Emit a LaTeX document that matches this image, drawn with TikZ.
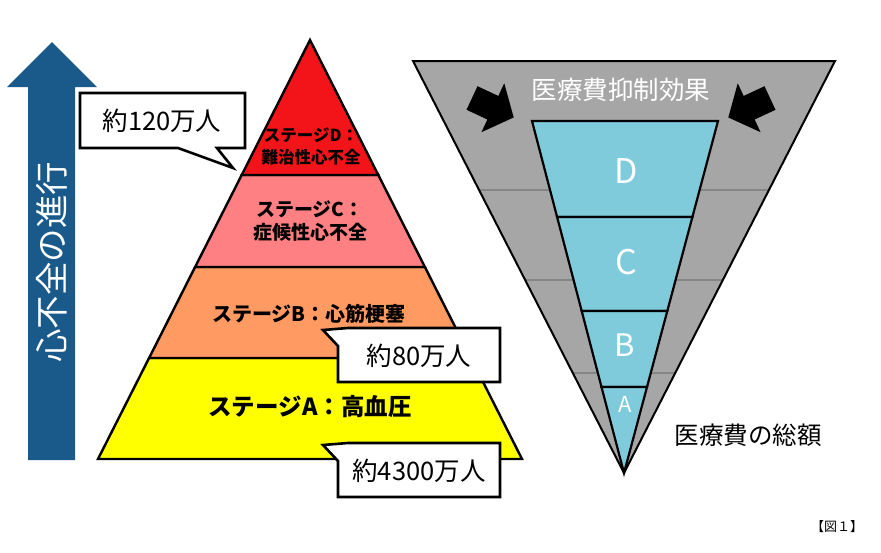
\documentclass[tikz,border=0pt]{standalone}
\usepackage{fontspec}
\setmainfont{Noto Sans CJK JP}
\definecolor{arrblue}{HTML}{1A5A8B}
\definecolor{stD}{HTML}{F21418}
\definecolor{stC}{HTML}{FF8082}
\definecolor{stB}{HTML}{FF9A62}
\definecolor{stA}{HTML}{FFFF00}
\definecolor{grayband}{HTML}{A6A6A6}
\definecolor{grayline}{HTML}{858585}
\definecolor{cost}{HTML}{7FCADB}
\begin{document}
\begin{tikzpicture}[x=1pt,y=-1pt,
  layer/.style={draw=black,line width=2.4pt,line join=miter},
  stagetext/.style={font=\bfseries,text=black,align=center,inner sep=0pt},
  callout/.style={draw=black,fill=white,line width=2.6pt,line join=miter},
  calltext/.style={font=\fontsize{25.5}{27}\selectfont,inner sep=0pt},
  costletter/.style={text=white,font=\fontsize{34}{36}\selectfont,inner sep=0pt},
  blackarrow/.style={fill=black}]
\useasboundingbox (0,0) rectangle (881,552);

% vertical progress arrow
\fill[arrblue] (28,460) -- (28,87) -- (7,87) -- (52,42) -- (97,87) -- (75,87) -- (75,460) -- cycle;
\node[text=white,rotate=90,font=\fontsize{33.5}{35}\selectfont,inner sep=0pt] (prog) at (52,262) {心不全の進行};

% pyramid
\path[layer,fill=stA] (149.1,358) -- (470.9,358) -- (522,459) -- (98,459) -- cycle;
\path[layer,fill=stB] (195.1,267) -- (424.9,267) -- (470.9,358) -- (149.1,358) -- cycle;
\path[layer,fill=stC] (241.7,175) -- (378.3,175) -- (424.9,267) -- (195.1,267) -- cycle;
\path[layer,fill=stD] (310,40) -- (378.3,175) -- (241.7,175) -- cycle;

\node[stagetext,font=\bfseries\fontsize{16.5}{22}\selectfont] (sD) at (311,146) {ステージD：\\難治性心不全};
\node[stagetext,font=\bfseries\fontsize{19}{23}\selectfont] (sC) at (310,221) {ステージC：\\症候性心不全};
\node[stagetext,font=\bfseries\fontsize{20}{22}\selectfont] (sB) at (309,314) {ステージB：心筋梗塞};
\node[stagetext,font=\bfseries\fontsize{23.5}{25}\selectfont] (sA) at (310,407) {ステージA：高血圧};

% callouts
\coordinate (t1) at (233,168);
\draw[callout] (80,93) -- (245,93) -- (245,148) -- (217,148) -- (t1) -- (178,148) -- (80,148) -- cycle;
\node[calltext] (c1) at (162,121) {約120万人};

\coordinate (t2) at (323,330);
\draw[callout] (348,328) -- (500,328) -- (500,382) -- (338,382) -- (338,346) -- (t2) -- cycle;
\node[calltext] (c2) at (419,356) {約80万人};

\coordinate (t3) at (323,445);
\draw[callout] (348,443) -- (500,443) -- (500,497) -- (338,497) -- (338,461) -- (t3) -- cycle;
\node[calltext] (c3) at (419,471) {約4300万人};

% inverted triangle: medical costs
\fill[grayband] (413,61) -- (835,61) -- (624,473) -- cycle;
\draw[grayline,line width=2pt] (479.1,190) -- (768.9,190);
\draw[grayline,line width=2pt] (525.2,280) -- (722.8,280);
\draw[grayline,line width=2pt] (572.8,373) -- (675.2,373);
\draw[black,line width=2pt,line join=miter] (413,61) -- (835,61) -- (624,473) -- cycle;

\path[layer,line width=2.2pt,fill=cost] (532,121) -- (718,121) -- (692.4,217) -- (557.1,217) -- cycle;
\path[layer,line width=2.2pt,fill=cost] (557.1,217) -- (692.4,217) -- (667.3,311) -- (581.7,311) -- cycle;
\path[layer,line width=2.2pt,fill=cost] (581.7,311) -- (667.3,311) -- (647.0,387) -- (601.5,387) -- cycle;
\path[layer,line width=2.2pt,fill=cost] (601.5,387) -- (647.0,387) -- (624,473) -- cycle;

\node[costletter] (lD) at (626,171) {D};
\node[costletter] (lC) at (626,262) {C};
\node[costletter,font=\fontsize{31}{33}\selectfont] (lB) at (625,345) {B};
\node[costletter,font=\fontsize{22}{24}\selectfont] (lA) at (625,404) {A};

\node[text=white,font=\fontsize{25.5}{27}\selectfont,inner sep=0pt] (eff) at (621,90) {医療費抑制効果};
\node[text=black,font=\fontsize{24.5}{26}\selectfont,inner sep=0pt] (tot) at (748,435) {医療費の総額};

% black block arrows
\fill[blackarrow,shift={(472,98)},rotate=-25] (0,-13) -- (23,-13) -- (23,-27) -- (46,0) -- (23,27) -- (23,13) -- (0,13) -- cycle;
\fill[blackarrow,shift={(770,98)},rotate=-155] (0,-13) -- (23,-13) -- (23,-27) -- (46,0) -- (23,27) -- (23,13) -- (0,13) -- cycle;

\node[font=\fontsize{13}{15}\selectfont,inner sep=0pt] (fig) at (837,527) {【図１】};
\end{tikzpicture}
\end{document}
